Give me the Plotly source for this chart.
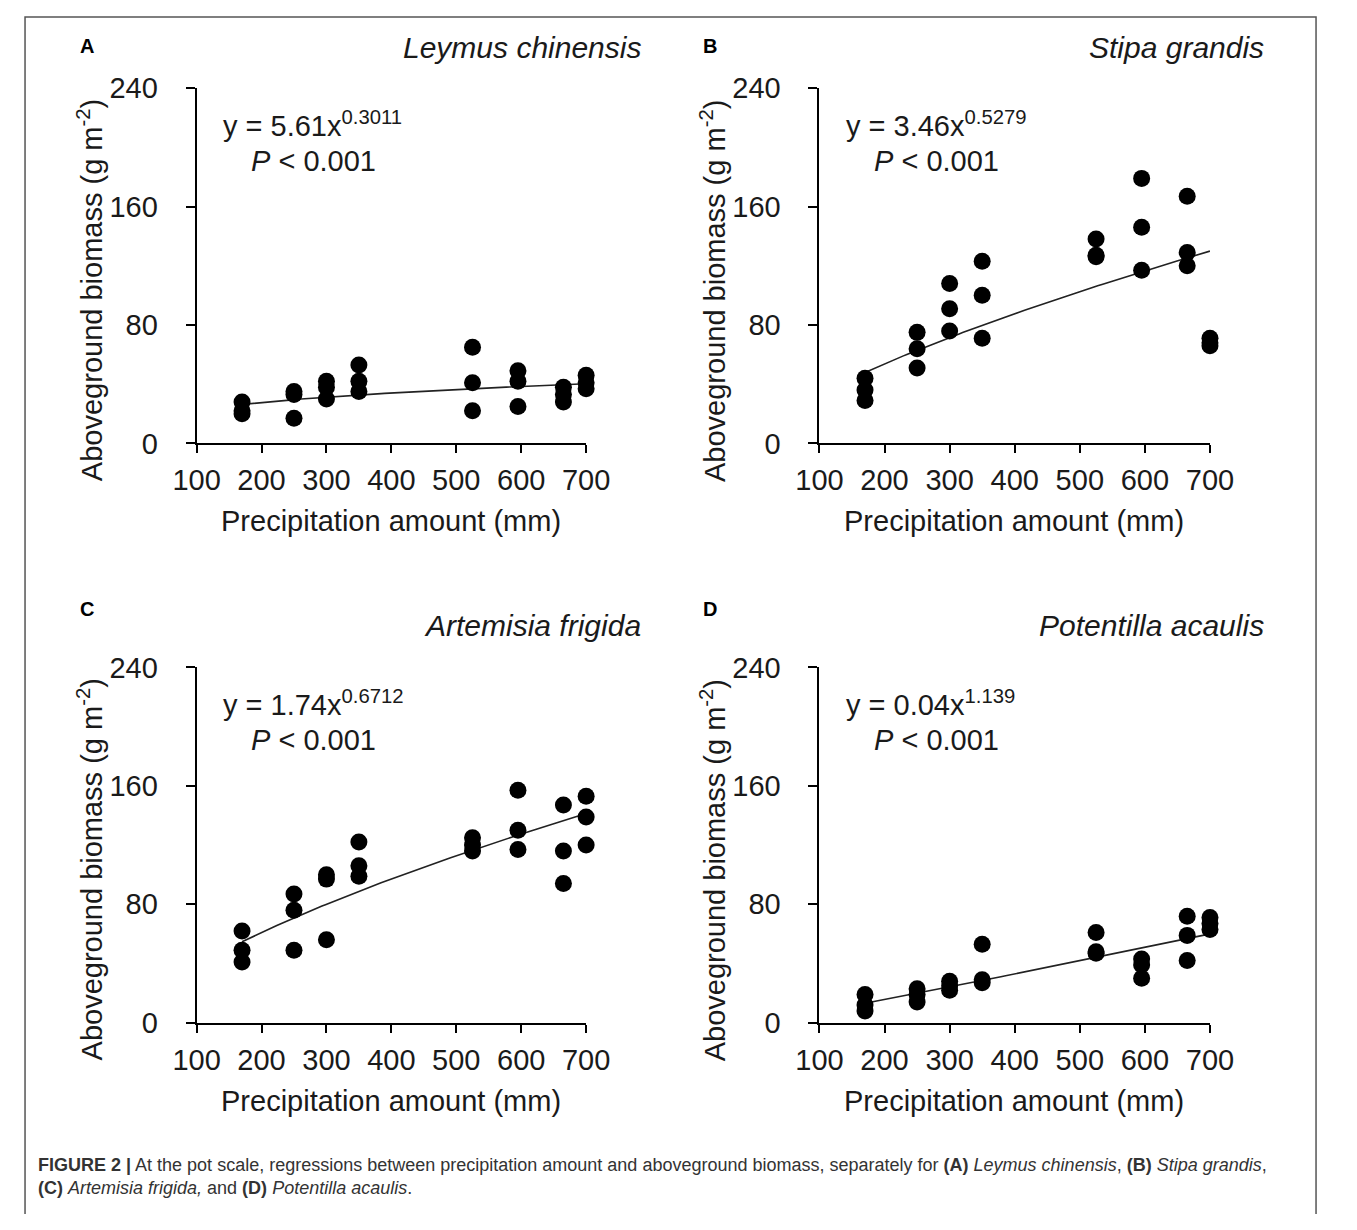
import numpy as np
import plotly.graph_objects as go

# the page body keeps a default 8px margin, so the figure is sized to fit the window
OFF = 8
W, H = 1357 - 2 * OFF, 1230 - 2 * OFF

# ---------------- data ----------------
precip_levels = [170, 250, 300, 350, 525, 595, 665, 700]

leymus_biomass = [
    [28, 22, 20], [35, 33, 17], [42, 38, 30], [53, 42, 35],
    [65, 41, 22], [49, 42, 25], [38, 33, 28], [46, 41, 37],
]
stipa_biomass = [
    [44, 36, 29], [75, 64, 51], [108, 91, 76], [123, 100, 71],
    [138, 127, 126], [179, 146, 117], [167, 129, 120], [71, 68, 66],
]
artemisia_biomass = [
    [62, 49, 41], [87, 76, 49], [100, 97, 56], [122, 106, 99],
    [125, 120, 116], [157, 130, 117], [147, 116, 94], [153, 139, 120],
]
potentilla_biomass = [
    [19, 12, 8], [23, 19, 14], [28, 25, 22], [53, 29, 27],
    [61, 48, 47], [43, 39, 30], [72, 59, 42], [71, 67, 63],
]

species = ["Leymus chinensis", "Stipa grandis", "Artemisia frigida", "Potentilla acaulis"]
panel_letters = ["A", "B", "C", "D"]
equations = ["y = 5.61x<sup>0.3011</sup>", "y = 3.46x<sup>0.5279</sup>",
             "y = 1.74x<sup>0.6712</sup>", "y = 0.04x<sup>1.139</sup>"]
# regression curve parameters (a * x^b) of the drawn fitted lines
curve_a = [5.61, 1.29, 1.74, 0.0542]
curve_b = [0.3011, 0.704, 0.6712, 1.07]
curve_range = [170, 700]

x_ticks = [100, 200, 300, 400, 500, 600, 700]
y_ticks = [0, 80, 160, 240]

all_biomass = [leymus_biomass, stipa_biomass, artemisia_biomass, potentilla_biomass]

# ---------------- layout helpers ----------------
def px(x, y):
    """reference-picture pixel -> paper coords"""
    return (x - OFF) / W, 1 - (y - OFF) / H

FONT = "Liberation Sans, Arial, Helvetica, sans-serif"
TXT = "#1a1a1a"

# pixel geometry of panels: (x_left, x_right, y_top, y_bottom)
panels = [
    (187, 591, 82, 447),
    (833, 1238, 82, 447),
    (187, 591, 677, 1042),
    (833, 1238, 677, 1042),
]

fig = go.Figure()
layout = dict(
    width=W, height=H, margin=dict(l=0, r=0, t=0, b=0),
    paper_bgcolor="white", plot_bgcolor="white", showlegend=False,
    font=dict(family=FONT, color=TXT),
)
annotations = []

for i, (xl, xr, yt, yb) in enumerate(panels):
    n = "" if i == 0 else str(i + 1)
    xs, ys = [], []
    for lvl, vals in zip(precip_levels, all_biomass[i]):
        for v in vals:
            xs.append(lvl)
            ys.append(v)
    cx = np.linspace(curve_range[0], curve_range[1], 100)
    cy = curve_a[i] * cx ** curve_b[i]
    fig.add_trace(go.Scatter(x=cx, y=cy, mode="lines", line=dict(color="#222222", width=1.6),
                             xaxis="x" + n, yaxis="y" + n, cliponaxis=False, hoverinfo="skip"))
    fig.add_trace(go.Scatter(x=xs, y=ys, mode="markers", marker=dict(color="black", size=17),
                             xaxis="x" + n, yaxis="y" + n, cliponaxis=False))
    x0, y0 = px(xl, yb)
    x1, y1 = px(xr, yt)
    layout["xaxis" + n] = dict(
        domain=[x0, x1], anchor="y" + n, range=[100, 700], tickvals=x_ticks,
        showline=True, linecolor="black", linewidth=2, ticks="outside", ticklen=8,
        tickwidth=2, tickcolor="black", showgrid=False, zeroline=False,
        tickfont=dict(size=29, family=FONT, color=TXT), ticklabelstandoff=2,
    )
    layout["yaxis" + n] = dict(
        domain=[y0, y1], anchor="x" + n, range=[0, 240], tickvals=y_ticks,
        showline=True, linecolor="black", linewidth=2, ticks="outside", ticklen=9,
        tickwidth=2, tickcolor="black", showgrid=False, zeroline=False,
        tickfont=dict(size=29, family=FONT, color=TXT), ticklabelstandoff=22,
    )
    dx = xl - 187
    dy = yt - 82
    # panel letter
    lx, ly = px(64 + dx, (39 if i < 2 else 617))
    annotations.append(dict(x=lx, y=ly, xref="paper", yref="paper", text="<b>%s</b>" % panel_letters[i],
                            showarrow=False, xanchor="left", yanchor="middle",
                            font=dict(size=20, family=FONT, color="black")))
    # species title
    sx, sy = px(650 + dx, (40 if i < 2 else 634))
    annotations.append(dict(x=sx, y=sy, xref="paper", yref="paper", text="<i>%s</i>" % species[i],
                            showarrow=False, xanchor="right", yanchor="middle",
                            font=dict(size=30, family=FONT, color=TXT)))
    # equation
    ex, ey = px(212 + dx, 119 + dy)
    annotations.append(dict(x=ex, y=ey, xref="paper", yref="paper", text=equations[i],
                            showarrow=False, xanchor="left", yanchor="middle",
                            font=dict(size=29, family=FONT, color=TXT)))
    qx, qy = px(241 + dx, 157 + dy)
    annotations.append(dict(x=qx, y=qy, xref="paper", yref="paper", text="<i>P</i> < 0.001",
                            showarrow=False, xanchor="left", yanchor="middle",
                            font=dict(size=29, family=FONT, color=TXT)))
    # axis titles
    tx, ty = px(389 + dx, 527 + dy)
    annotations.append(dict(x=tx, y=ty, xref="paper", yref="paper", text="Precipitation amount (mm)",
                            showarrow=False, xanchor="center", yanchor="middle",
                            font=dict(size=29, family=FONT, color=TXT)))
    vx, vy = px(76 + dx, 290 + dy)
    annotations.append(dict(x=vx, y=vy, xref="paper", yref="paper",
                            text="Aboveground biomass (g m<sup>-2</sup>)", textangle=-90,
                            showarrow=False, xanchor="center", yanchor="middle",
                            font=dict(size=29, family=FONT, color=TXT)))

# caption
cap_x, cap_y = px(20, 1200)
caption = ("<b>FIGURE 2 |</b> At the pot scale, regressions between precipitation amount and aboveground "
           "biomass, separately for <b>(A)</b> <i>Leymus chinensis</i>, <b>(B)</b> <i>Stipa grandis</i>,<br>"
           "<b>(C)</b> <i>Artemisia frigida,</i> and <b>(D)</b> <i>Potentilla acaulis</i>.")
annotations.append(dict(x=cap_x, y=cap_y, xref="paper", yref="paper", text=caption, align="left",
                        showarrow=False, xanchor="left", yanchor="middle",
                        font=dict(size=18, family=FONT, color="#333333")))

layout["annotations"] = annotations
bx0, by0 = px(8, 9)
bx1, _ = px(1348, 0)
layout["shapes"] = [dict(type="path", xref="paper", yref="paper",
                         path="M %f,-0.02 L %f,%f L %f,%f L %f,-0.02" % (bx0 + 0.0008, bx0 + 0.0008, by0, bx1, by0, bx1),
                         line=dict(color="#555555", width=1.5))]
fig.update_layout(**layout)
fig.write_html("out.html")
